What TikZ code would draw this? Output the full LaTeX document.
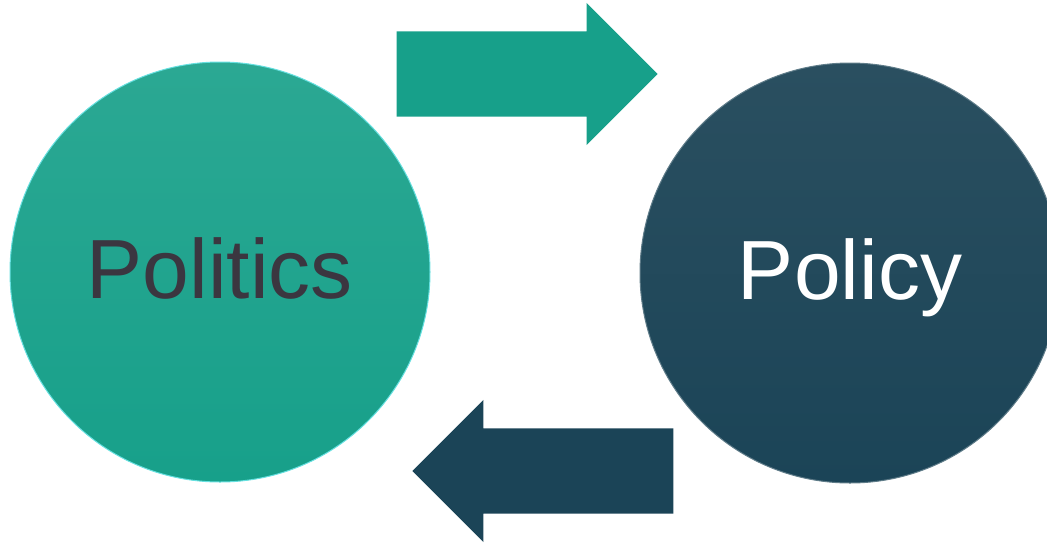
\documentclass[tikz,border=0pt]{standalone}
\usepackage{fontspec}
\setmainfont{Liberation Sans}
\usetikzlibrary{positioning,shapes.arrows}
\definecolor{tealmid}{HTML}{17A08A}
\definecolor{teallight}{HTML}{2BA893}
\definecolor{navymid}{HTML}{1B4457}
\definecolor{navylight}{HTML}{2A4F60}
\definecolor{politxt}{HTML}{3B3640}
\begin{document}
\begin{tikzpicture}[x=1pt,y=-1pt,
every node/.style={inner sep=0pt},
ball/.style={circle,minimum size=420pt,text height=52pt,text depth=0pt,
  font=\fontsize{84}{90}\selectfont},
flow/.style={single arrow,minimum height=261pt,inner ysep=42.5pt,
  single arrow head extend=28.5pt,anchor=tip}]
\useasboundingbox (0,0) rectangle (1047,542);
% the two circles
\node[ball,top color=teallight,bottom color=tealmid,draw=teal!40!cyan!60,
  line width=1pt,text=politxt] (POL) at (220,272) {Politics};
\node[ball,top color=navylight,bottom color=navymid,draw=navymid!70!white,
  line width=1pt,text=white] (POC) at (850,273) {Policy};
% the two arrows
\node[flow,fill=tealmid] (FWD) at (658,74) {};
\node[flow,fill=navymid,shape border rotate=180] (BCK) at (412,471) {};
\end{tikzpicture}
\end{document}
